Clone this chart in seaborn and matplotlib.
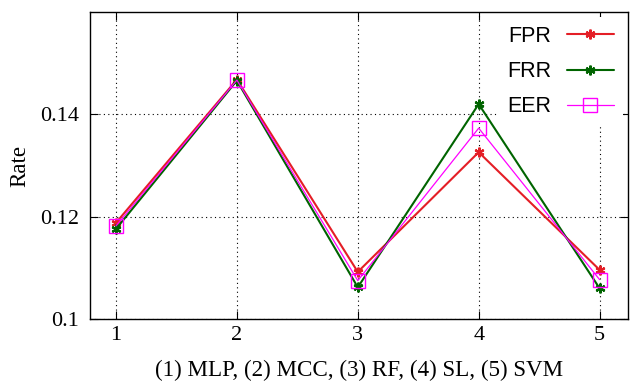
import matplotlib
matplotlib.use("Agg")
import matplotlib.pyplot as plt
import seaborn as sns
import pandas as pd
from matplotlib.ticker import FuncFormatter

models = [1, 2, 3, 4, 5]
fpr = [0.1188, 0.1468, 0.1092, 0.1326, 0.1096]
frr = [0.1176, 0.1466, 0.1062, 0.1420, 0.1060]
eer = [0.1182, 0.1467, 0.1075, 0.1373, 0.1077]
series_names = ["FPR", "FRR", "EER"]
xlabel = "(1) MLP, (2) MCC, (3) RF, (4) SL, (5) SVM"
ylabel = "Rate"
yticks = [0.10, 0.12, 0.14]

sns.set_theme(style="white")
plt.rcParams["font.family"] = ["Liberation Serif", "DejaVu Serif"]
plt.rcParams["text.color"] = "black"

df = pd.DataFrame({
    "x": models * 3,
    "y": fpr + frr + eer,
    "s": [series_names[0]] * 5 + [series_names[1]] * 5 + [series_names[2]] * 5,
})

fig = plt.figure(figsize=(6.3, 3.81), dpi=100)
ax = fig.add_axes([90 / 630, 62 / 381, 538 / 630, 307 / 381])

styles = {
    "FPR": dict(color="#e41e26", marker=(6, 2, 0), markersize=7, lw=1.5, mew=1.6, mfc="none"),
    "FRR": dict(color="#006400", marker=(6, 2, 0), markersize=7, lw=1.5, mew=1.6, mfc="none"),
    "EER": dict(color="#ff00ff", marker="s", markersize=10, lw=0.9, mew=1.0, mfc="none"),
}
for name in series_names:
    st = styles[name]
    sns.lineplot(data=df[df["s"] == name], x="x", y="y", ax=ax, label=name,
                 color=st["color"], marker=st["marker"], markersize=st["markersize"],
                 linewidth=st["lw"], markeredgewidth=st["mew"], markerfacecolor=st["mfc"],
                 markeredgecolor=st["color"], zorder=3)

ax.set_xlim(0.785, 5.235)
ax.set_ylim(0.1, 0.16)
ax.set_xticks(models)
ax.set_yticks(yticks)
ax.yaxis.set_major_formatter(FuncFormatter(lambda v, p: f"{v:g}"))
ax.grid(True, color="black", linestyle=(0, (1, 3)), linewidth=0.8)
ax.tick_params(direction="in", length=6, width=0.8, color="black", labelsize=16,
               top=True, right=True, bottom=True, left=True, labelcolor="black")
ax.tick_params(axis="x", pad=5)
ax.tick_params(axis="y", pad=8)
for sp in ax.spines.values():
    sp.set_color("black")
    sp.set_linewidth(1.0)
ax.set_xlabel(xlabel, fontsize=16.6, labelpad=11, color="black")
ax.set_ylabel(ylabel, fontsize=16.6, labelpad=7, color="black")

leg = ax.legend(loc="upper right", markerfirst=False, frameon=True,
                handlelength=2.2, handletextpad=0.7, borderaxespad=0.25, labelspacing=0.66,
                prop={"family": ["Liberation Sans", "DejaVu Sans"], "size": 15.5})
leg.get_frame().set_edgecolor("none")
leg.get_frame().set_facecolor("white")
leg.get_frame().set_alpha(1.0)
for t in leg.get_texts():
    t.set_color("black")
leg.set_zorder(5)

fig.savefig("out.png", dpi=100)
